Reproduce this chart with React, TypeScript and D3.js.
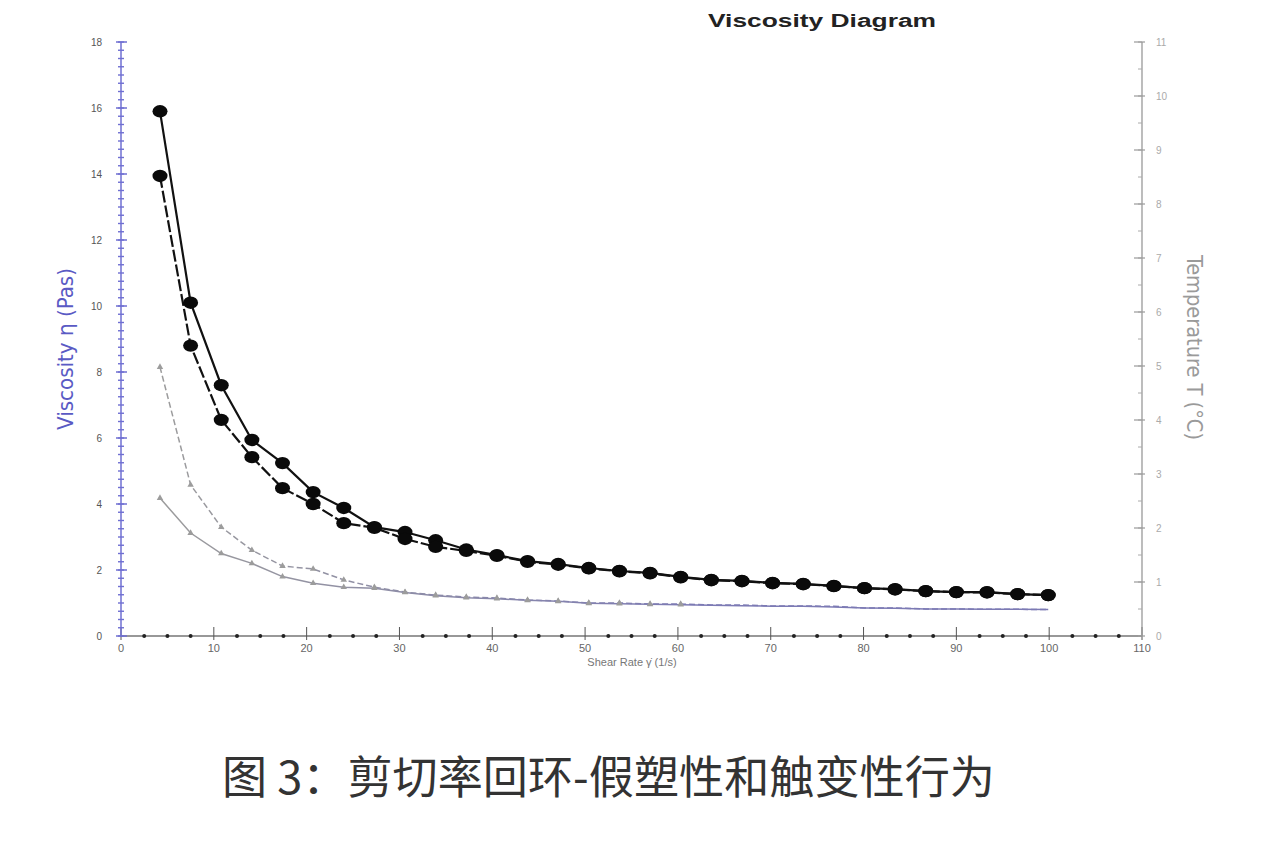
import React from 'react'
import * as d3 from 'd3'

// shear rate points (1/s)
const shearRate = [4.2, 7.5, 10.8, 14.1, 17.4, 20.7, 24.0, 27.3, 30.6, 33.9, 37.2, 40.5, 43.8, 47.1, 50.4,
  53.7, 57.0, 60.3, 63.6, 66.9, 70.2, 73.5, 76.8, 80.1, 83.4, 86.7, 90.0, 93.3, 96.6, 99.9]

// viscosity, sample 1 (black), up / down
const blackUp = [15.9, 10.1, 7.6, 5.94, 5.24, 4.36, 3.88, 3.3, 3.15, 2.9, 2.62, 2.45, 2.27, 2.18, 2.06,
  1.97, 1.91, 1.79, 1.7, 1.67, 1.61, 1.58, 1.52, 1.45, 1.42, 1.36, 1.33, 1.33, 1.27, 1.24]
const blackDown = [13.94, 8.8, 6.55, 5.42, 4.48, 4.0, 3.42, 3.28, 2.94, 2.7, 2.58, 2.43, 2.25, 2.16, 2.05,
  1.96, 1.9, 1.78, 1.69, 1.66, 1.6, 1.57, 1.51, 1.45, 1.41, 1.36, 1.33, 1.32, 1.27, 1.24]

// viscosity, sample 2 (grey/blue), up / down
const greyUp = [8.15, 4.58, 3.3, 2.6, 2.12, 2.03, 1.7, 1.48, 1.33, 1.24, 1.18, 1.15, 1.09, 1.06, 1.0,
  1.0, 0.97, 0.97, 0.94, 0.94, 0.91, 0.91, 0.9, 0.85, 0.85, 0.82, 0.82, 0.81, 0.81, 0.8]
const greyDown = [4.18, 3.12, 2.5, 2.2, 1.8, 1.6, 1.48, 1.45, 1.32, 1.22, 1.16, 1.13, 1.08, 1.05, 0.99,
  0.98, 0.96, 0.95, 0.93, 0.92, 0.9, 0.9, 0.88, 0.85, 0.84, 0.82, 0.82, 0.81, 0.81, 0.8]

const xTicks = [0, 10, 20, 30, 40, 50, 60, 70, 80, 90, 100, 110]
const yTicks = [0, 2, 4, 6, 8, 10, 12, 14, 16, 18]
const tempTicks = [0, 1, 2, 3, 4, 5, 6, 7, 8, 9, 10, 11]

const W = 1284
const H = 850
const plot = { left: 121, right: 1142, top: 42, bottom: 636 }

const App: React.FC = () => {
  const x = d3.scaleLinear().domain([0, 110]).range([plot.left, plot.right])
  const y = d3.scaleLinear().domain([0, 18]).range([plot.bottom, plot.top])
  const yT = d3.scaleLinear().domain([0, 11]).range([plot.bottom, plot.top])

  const line = d3.line<number>()
    .x((_, i) => x(shearRate[i]))
    .y(d => y(d))

  const tri = d3.symbol().type(d3.symbolTriangle).size(18)

  const minorX = d3.range(0, 110, 2.5).filter(v => v % 10 !== 0)
  const minorY = d3.range(0, 18.01, 0.25)
  const minorT = d3.range(0, 11.01, 0.5)

  const blue = '#6f6fd2'
  const sans = 'Liberation Sans, Arial, sans-serif'
  const narrow = 'Liberation Sans Narrow, DejaVu Sans Condensed, Liberation Sans, sans-serif'

  return (
    <svg width={W} height={H} style={{ position: 'absolute', left: 0, top: 0, background: '#fff' }}>
      <defs>
        <linearGradient id="greyBlue" gradientUnits="userSpaceOnUse" x1={160} y1={0} x2={700} y2={0}>
          <stop offset="0" stopColor="#9c9c9c" />
          <stop offset="1" stopColor="#7c7ab4" />
        </linearGradient>
      </defs>
      <rect width={W} height={H} fill="#fff" />

      {/* title */}
      <text x={708} y={27} fontFamily={sans} fontWeight="bold" fontSize={18}
        fill="#222" textLength={228} lengthAdjust="spacingAndGlyphs">Viscosity Diagram</text>

      {/* x axis */}
      <line x1={plot.left} x2={plot.right} y1={plot.bottom} y2={plot.bottom} stroke="#333" strokeWidth={1.2} />
      {minorX.map(v => (
        <circle key={'mx' + v} cx={x(v)} cy={plot.bottom} r={2} fill="#222" />
      ))}
      {xTicks.map(v => (
        <g key={'xt' + v}>
          <line x1={x(v)} x2={x(v)} y1={plot.bottom - 9} y2={plot.bottom + 4} stroke="#555" strokeWidth={1} />
          <text x={x(v)} y={plot.bottom + 16} textAnchor="middle" fontFamily={sans} fontSize={11} fill="#666">{v}</text>
        </g>
      ))}
      <text x={632} y={666} textAnchor="middle" fontFamily={sans} fontSize={11} fill="#777">Shear Rate γ̇ (1/s)</text>

      {/* left axis */}
      {minorY.map(v => (
        <line key={'my' + v} x1={plot.left - 3} x2={plot.left + 3} y1={y(v)} y2={y(v)} stroke={blue} strokeWidth={1.4} />
      ))}
      <line x1={plot.left} x2={plot.left} y1={plot.top} y2={plot.bottom} stroke={blue} strokeWidth={1.5} />
      {yTicks.map(v => (
        <g key={'yt' + v}>
          <line x1={plot.left - 5} x2={plot.left + 6} y1={y(v)} y2={y(v)} stroke={blue} strokeWidth={1.5} />
          <text x={plot.left - 19} y={y(v) + 4} textAnchor="end" fontFamily={sans} fontSize={10} fill="#555">{v}</text>
        </g>
      ))}
      <text transform={`translate(73,430) rotate(-90)`} fontFamily={narrow} fontSize={21}
        fill="#5a5ac4" textLength={162} lengthAdjust="spacingAndGlyphs">Viscosity η (Pas)</text>

      {/* right axis */}
      <line x1={plot.right} x2={plot.right} y1={plot.top} y2={plot.bottom} stroke="#999" strokeWidth={1.3} />
      {minorT.map(v => (
        <line key={'mt' + v} x1={plot.right - 4} x2={plot.right} y1={yT(v)} y2={yT(v)} stroke="#aaa" strokeWidth={1} />
      ))}
      {tempTicks.map(v => (
        <g key={'tt' + v}>
          <line x1={plot.right - 8} x2={plot.right + 3} y1={yT(v)} y2={yT(v)} stroke="#999" strokeWidth={1.2} />
          <text x={plot.right + 14} y={yT(v) + 4} textAnchor="start" fontFamily={sans} fontSize={10} fill="#aaa">{v}</text>
        </g>
      ))}
      <text transform={`translate(1187,255) rotate(90)`} fontFamily={narrow} fontSize={21}
        fill="#9a9a9a" textLength={185} lengthAdjust="spacingAndGlyphs">Temperature T (°C)</text>

      {/* grey / blue sample */}
      <path d={line(greyUp) || ''} fill="none" stroke="url(#greyBlue)" strokeWidth={1.5} strokeDasharray="6,3" />
      <path d={line(greyDown) || ''} fill="none" stroke="url(#greyBlue)" strokeWidth={1.5} />
      {greyUp.map((v, i) => i < 18 ? (
        <path key={'gu' + i} d={tri() || ''} transform={`translate(${x(shearRate[i])},${y(v)})`} fill="url(#greyBlue)" />
      ) : null)}
      {greyDown.map((v, i) => i < 18 ? (
        <path key={'gd' + i} d={tri() || ''} transform={`translate(${x(shearRate[i])},${y(v)})`} fill="url(#greyBlue)" />
      ) : null)}

      {/* black sample */}
      <path d={line(blackUp) || ''} fill="none" stroke="#111" strokeWidth={2.2} />
      <path d={line(blackDown) || ''} fill="none" stroke="#111" strokeWidth={2.2} strokeDasharray="12,3" />
      {blackUp.map((v, i) => (
        <ellipse key={'bu' + i} cx={x(shearRate[i])} cy={y(v)} rx={7.5} ry={6.2} fill="#0a0a0a" />
      ))}
      {blackDown.map((v, i) => (
        <ellipse key={'bd' + i} cx={x(shearRate[i])} cy={y(v)} rx={7.5} ry={6.2} fill="#0a0a0a" />
      ))}

      {/* caption */}
      <text x={222} y={794} fontFamily="Noto Sans CJK SC, sans-serif" fontSize={45} fill="#333"
        textLength={773} lengthAdjust="spacingAndGlyphs">
        图 3：剪切率回环-假塑性和触变性行为
      </text>
    </svg>
  )
}

export default App
